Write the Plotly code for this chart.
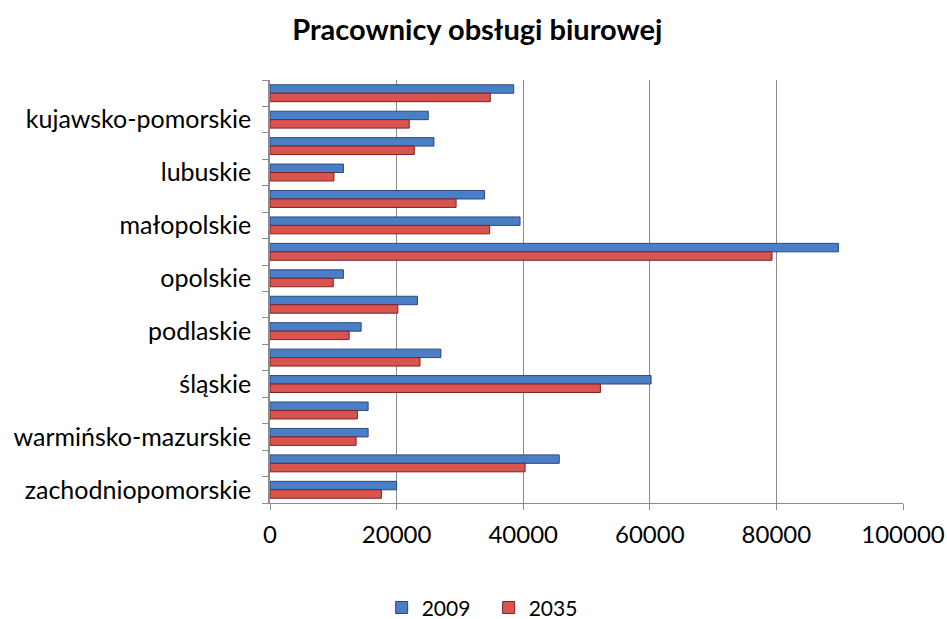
import plotly.graph_objects as go

# Voivodeships, listed top to bottom
regions = [
    "dolnośląskie", "kujawsko-pomorskie", "lubelskie", "lubuskie",
    "łódzkie", "małopolskie", "mazowieckie", "opolskie",
    "podkarpackie", "podlaskie", "pomorskie", "śląskie",
    "świętokrzyskie", "warmińsko-mazurskie", "wielkopolskie", "zachodniopomorskie",
]
values_2009 = [38500, 25000, 25900, 11600, 33900, 39500, 89800, 11600,
               23300, 14400, 27000, 60200, 15500, 15500, 45700, 20000]
values_2035 = [34800, 22000, 22800, 10100, 29400, 34700, 79300, 10000,
               20200, 12500, 23700, 52200, 13800, 13600, 40300, 17600]
x_ticks = [0, 20000, 40000, 60000, 80000, 100000]

# every second region gets a visible label
tick_text = [r if i % 2 == 1 else "" for i, r in enumerate(regions)]

FONT = "Lato"

fig = go.Figure()
fig.add_trace(go.Bar(
    y=regions, x=values_2009, name="2009", orientation="h",
    marker=dict(color="#4A7EC6", line=dict(color="#2B4A7A", width=1)),
))
fig.add_trace(go.Bar(
    y=regions, x=values_2035, name="2035", orientation="h",
    marker=dict(color="#D9534F", line=dict(color="#7A2523", width=1)),
))

fig.update_layout(
    width=947, height=619,
    margin=dict(l=270, r=44, t=80, b=116, autoexpand=False),
    paper_bgcolor="white", plot_bgcolor="white",
    barmode="group", bargap=0.36, bargroupgap=0.0,
    title=dict(text="<b>Pracownicy obsługi biurowej</b>", x=0.504, xanchor="center",
               y=0.952, yanchor="middle",
               font=dict(family=FONT, size=29, color="black")),
    font=dict(family=FONT, size=25, color="black"),
    legend=dict(orientation="h", xref="container", x=0.516, xanchor="center",
                yref="container", y=0.018, yanchor="middle",
                font=dict(size=21), itemwidth=30, traceorder="normal",
                entrywidth=62, entrywidthmode="pixels"),
    showlegend=True,
)

fig.update_xaxes(
    range=[0, 100000], tickvals=x_ticks, ticktext=[str(v) for v in x_ticks],
    showgrid=True, gridcolor="#8C8C8C", gridwidth=1,
    showline=True, linecolor="#8C8C8C", linewidth=1,
    ticks="outside", ticklen=6, tickcolor="#8C8C8C",
    zeroline=False, tickfont=dict(size=24), ticklabelstandoff=4,
    automargin=False,
)
fig.update_yaxes(
    type="category", autorange="reversed",
    tickvals=regions, ticktext=tick_text, tickson="boundaries",
    showline=True, linecolor="#8C8C8C", linewidth=1.5,
    ticks="outside", ticklen=6, tickcolor="#8C8C8C",
    showgrid=False, tickfont=dict(size=25), ticklabelstandoff=12,
    automargin=False,
)

fig.write_html("out.html")
